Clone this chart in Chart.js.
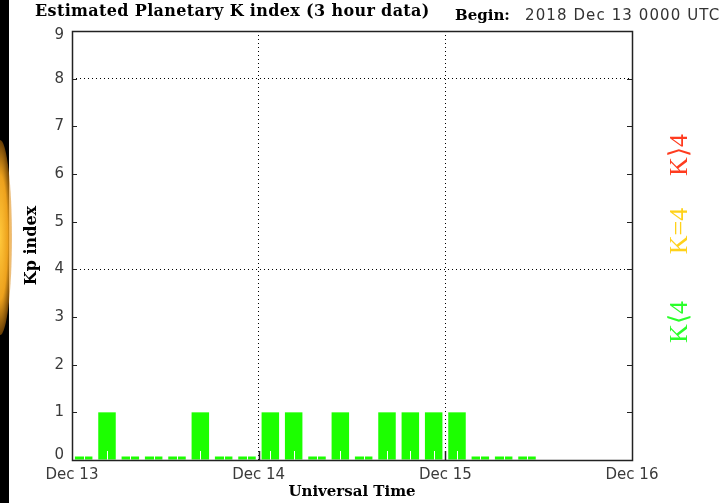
<!DOCTYPE html>
<html><head><meta charset="utf-8">
<script src="https://cdn.jsdelivr.net/npm/chart.js@4/dist/chart.umd.min.js"></script>
<style>
html,body{margin:0;padding:0;background:#fff;}
#wrap{position:relative;width:722px;height:503px;overflow:hidden;background:#fff;}
#c{position:absolute;left:0;top:0;}
.strip{position:absolute;left:0;top:0;width:9px;height:503px;background:#000;}
.glow{position:absolute;left:-12px;top:140px;width:24px;height:195px;border-radius:50%;background:radial-gradient(ellipse at center, rgba(255,200,60,1) 0%, rgba(250,170,30,0.95) 45%, rgba(200,110,0,0.4) 75%, rgba(0,0,0,0) 100%);}
.t{position:absolute;white-space:nowrap;line-height:20px;}
#title{left:35px;top:1px;font:bold 16px "DejaVu Serif",serif;color:#000;letter-spacing:0.35px;}
#begin{left:455px;top:6px;font:bold 15px "DejaVu Serif",serif;color:#000;}
#date{left:525px;top:6px;font:15px "DejaVu Sans",sans-serif;color:#333;letter-spacing:1.1px;}
.k{position:absolute;white-space:nowrap;font:26px "Liberation Serif",serif;line-height:26px;transform:translate(-50%,-50%) rotate(-90deg);}
</style>
</head><body>
<div id="wrap">
<canvas id="c" width="722" height="503"></canvas>
<div class="strip"></div><div class="glow"></div>
<div class="t" id="title">Estimated Planetary K index (3 hour data)</div>
<div class="t" id="begin">Begin:</div>
<div class="t" id="date">2018 Dec 13 0000 UTC</div>
<div class="k" style="left:679px;top:155px;color:#ff3b1f;">K&#x27E9;4</div>
<div class="k" style="left:679px;top:231px;color:#ffd21a;">K=4</div>
<div class="k" style="left:679px;top:322px;color:#2aff2a;">K&#x27E8;4</div>
</div>
<script>
// ---- data ----
const dayLabels = ['Dec 13', 'Dec 14', 'Dec 15', 'Dec 16'];
const binHours = 3;
const kpValues = [0, 1, 0, 0, 0, 1, 0, 0, 1, 1, 0, 1, 0, 1, 1, 1, 1, 0, 0, 0, null, null, null, null];
const yTickValues = [0, 1, 2, 3, 4, 5, 6, 7, 8, 9];
const yDottedAt = [4, 8];
const xDottedAt = [24, 48];

const points = kpValues.map((v, i) => v === null ? null : { x: i * binHours + binHours / 2, y: v }).filter(p => p);

const frame = {
  id: 'frame',
  beforeDraw(chart) {
    // keep the end labels of the y axis inside the frame, as in the reference
    const y = chart.scales.y;
    const items = y.getLabelItems(chart.chartArea);
    if (items.length && !items._shifted) {
      items[0].options.translation[1] -= 5;
      items[items.length - 1].options.translation[1] += 4;
      items._shifted = true;
    }
  },
  afterDatasetsDraw(chart) {
    const { ctx, chartArea: a, scales: { x, y } } = chart;
    ctx.save();
    // white bin-centre marks over bars
    ctx.strokeStyle = '#fff';
    ctx.lineWidth = 1;
    points.forEach(p => {
      const px = Math.round(x.getPixelForValue(p.x)) + 0.5;
      ctx.beginPath(); ctx.moveTo(px, a.bottom); ctx.lineTo(px, a.bottom - 9); ctx.stroke();
    });
    ctx.strokeStyle = '#222';
    // inward y ticks
    yTickValues.forEach(v => {
      const py = Math.round(y.getPixelForValue(v)) + 0.5;
      ctx.beginPath(); ctx.moveTo(a.left, py); ctx.lineTo(a.left + 5, py); ctx.stroke();
      ctx.beginPath(); ctx.moveTo(a.right, py); ctx.lineTo(a.right - 5, py); ctx.stroke();
    });
    // inward x ticks at day boundaries
    xDottedAt.forEach(v => {
      const px = Math.round(x.getPixelForValue(v)) + 0.5;
      ctx.lineWidth = 1.5;
      ctx.beginPath(); ctx.moveTo(px, a.bottom); ctx.lineTo(px, a.bottom - 9); ctx.stroke();
    });
    // frame
    ctx.lineWidth = 1.5;
    ctx.strokeStyle = '#222';
    ctx.strokeRect(Math.round(a.left) + 0.5, Math.round(a.top) + 0.5, Math.round(a.right - a.left), Math.round(a.bottom - a.top));
    ctx.restore();
  }
};

new Chart(document.getElementById('c'), {
  type: 'bar',
  data: {
    datasets: [{
      data: points,
      backgroundColor: '#1cff00',
      borderWidth: 0,
      barPercentage: 0.75,
      categoryPercentage: 1.0,
      minBarLength: 3.5
    }]
  },
  options: {
    responsive: false,
    animation: false,
    devicePixelRatio: 1,
    layout: { padding: { left: 0, right: 90, top: 31, bottom: 0 } },
    plugins: { legend: { display: false }, tooltip: { enabled: false } },
    scales: {
      x: {
        type: 'linear', min: 0, max: dayLabels.length * 24 - 24,
        offset: false,
        afterBuildTicks: s => { s.ticks = dayLabels.map((_, i) => ({ value: i * 24 })); },
        afterFit: s => { s.height = 43; },
        ticks: { callback: v => dayLabels[v / 24], font: { family: 'DejaVu Sans', size: 15 }, color: '#3a3a3a', padding: 6, maxRotation: 0, autoSkip: false },
        grid: { offset: false, drawTicks: false, color: c => (c.tick && xDottedAt.includes(c.tick.value)) ? '#000' : 'rgba(0,0,0,0)', lineWidth: 1 },
        border: { display: false, dash: [1, 3] },
        title: { display: true, text: 'Universal Time', font: { family: 'DejaVu Serif', size: 15, weight: 'bold' }, color: '#000', padding: { top: 0, bottom: 2 } }
      },
      y: {
        min: 0, max: 9,
        afterBuildTicks: s => { s.ticks = yTickValues.map(v => ({ value: v })); },
        afterFit: s => { s.width = 72; },
        ticks: { font: { family: 'DejaVu Sans', size: 15 }, color: '#3a3a3a', padding: 8 },
        grid: { drawTicks: false, color: c => (c.tick && yDottedAt.includes(c.tick.value)) ? '#000' : 'rgba(0,0,0,0)', lineWidth: 1 },
        border: { display: false, dash: [1, 3] },
        title: { display: true, text: 'Kp index', font: { family: 'DejaVu Serif', size: 16, weight: 'bold' }, color: '#000', padding: { top: 22, bottom: 0 } }
      }
    }
  },
  plugins: [frame]
});
</script>
</body></html>
